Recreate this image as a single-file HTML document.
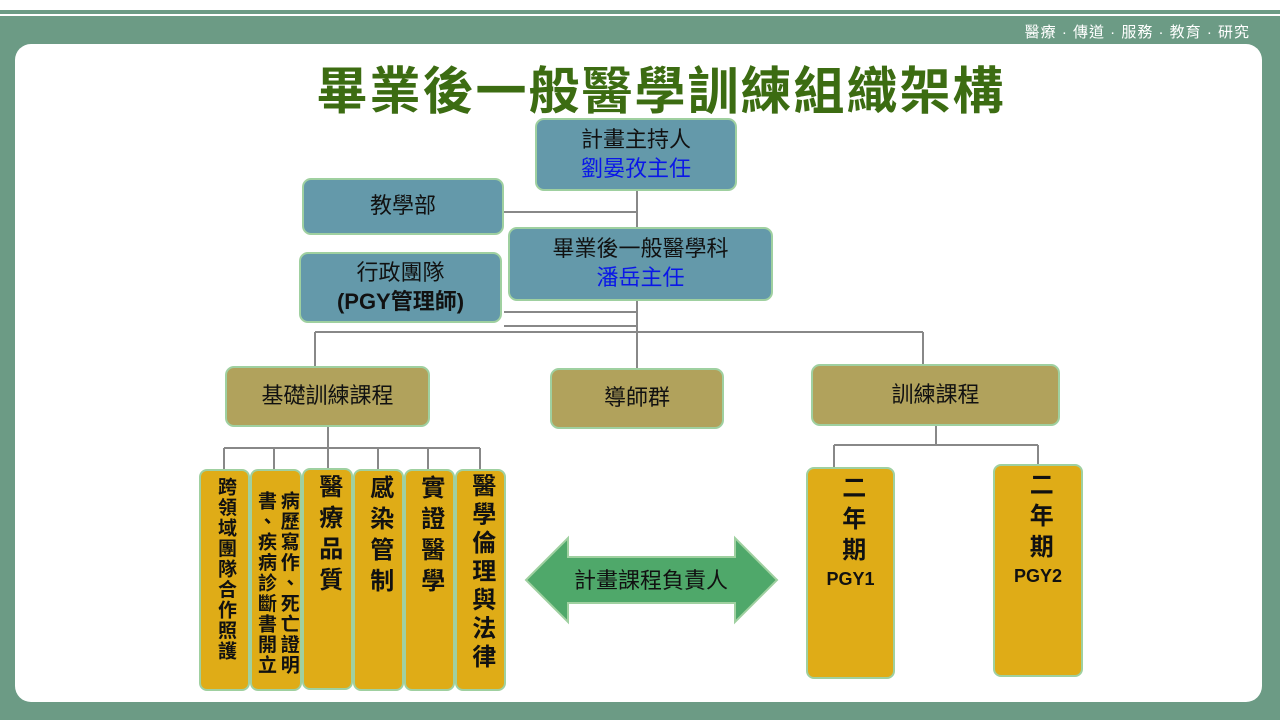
<!DOCTYPE html>
<html><head><meta charset="utf-8"><style>
*{margin:0;padding:0;box-sizing:border-box}
body{width:1280px;height:720px;position:relative;background:#fff;overflow:hidden;font-family:"Liberation Sans","Noto Sans CJK TC",sans-serif}
.abs{position:absolute}
.box{position:absolute;border:2px solid #9fd0a0;border-radius:9px;display:flex;flex-direction:column;align-items:center;justify-content:center;text-align:center;color:#111;line-height:1.3}
.t{background:#6499aa;font-size:22px}
.o{background:#b1a25c;font-size:22px}
.g{background:#dfac17;font-size:24px;justify-content:flex-start;padding-top:4px;border-radius:8px;font-weight:bold}
.v{writing-mode:vertical-rl;line-height:1.1;letter-spacing:7px}
.blue{color:#0a17e8}
</style></head><body>
<div class="abs" style="left:0;top:10px;width:1280px;height:4px;background:#6c9b85"></div>
<div class="abs" style="left:0;top:16px;width:1280px;height:704px;background:#6c9b85"></div>
<div class="abs" style="left:15px;top:44px;width:1247px;height:658px;background:#fff;border-radius:16px"></div>
<div class="abs" style="right:30px;top:21px;color:#fff;font-size:15px;letter-spacing:1px">醫療 · 傳道 · 服務 · 教育 · 研究</div>
<div class="abs" style="left:0;top:50px;width:1322px;text-align:center;color:#3c6c12;font-size:51px;font-weight:bold;letter-spacing:2px">畢業後一般醫學訓練組織架構</div>

<svg class="abs" style="left:0;top:0" width="1280" height="720">
<g stroke="#888" stroke-width="2" fill="none">
<path d="M637 190V230M504 212H637M637 300V332M504 312H637M504 326H637M315 332H923M315 332V366M637 332V368M923 332V366"/>
<path d="M328 425V448M224 448H480M224 448V470M274 448V470M328 448V470M378 448V470M428 448V470M480 448V470"/>
<path d="M936 425V445M834 445H1038M834 445V468M1038 445V465"/>
</g>
<polygon points="526,580 568,538 568,557 735,557 735,538 777,580 735,622 735,603 568,603 568,622" fill="#4fa86a" stroke="#9fd0a0" stroke-width="2"/>
<text x="651" y="588" text-anchor="middle" font-size="22" fill="#111" font-family="Liberation Sans,Noto Sans CJK TC,sans-serif">計畫課程負責人</text>
</svg>

<div class="box t" style="left:535px;top:118px;width:202px;height:73px">計畫主持人<span class="blue">劉晏孜主任</span></div>
<div class="box t" style="left:302px;top:178px;width:202px;height:57px">教學部</div>
<div class="box t" style="left:508px;top:227px;width:265px;height:74px">畢業後一般醫學科<span class="blue">潘岳主任</span></div>
<div class="box t" style="left:299px;top:252px;width:203px;height:71px">行政團隊<b>(PGY管理師)</b></div>
<div class="box o" style="left:225px;top:366px;width:205px;height:61px">基礎訓練課程</div>
<div class="box o" style="left:550px;top:368px;width:174px;height:61px">導師群</div>
<div class="box o" style="left:811px;top:364px;width:249px;height:62px">訓練課程</div>

<div class="box g" style="left:199px;top:469px;width:51px;height:222px;padding-top:6px"><span class="v" style="font-size:19px;letter-spacing:1.5px">跨領域團隊合作照護</span></div>
<div class="box g" style="left:250px;top:469px;width:52px;height:222px;padding-top:6px"><span class="v" style="font-size:19px;letter-spacing:1.5px;line-height:1.2">病歷寫作、死亡證明書、疾病診斷書開立</span></div>
<div class="box g" style="left:302px;top:468px;width:51px;height:222px"><span class="v">醫療品質</span></div>
<div class="box g" style="left:353px;top:469px;width:51px;height:222px"><span class="v">感染管制</span></div>
<div class="box g" style="left:404px;top:469px;width:51px;height:222px"><span class="v">實證醫學</span></div>
<div class="box g" style="left:455px;top:469px;width:51px;height:222px;padding-top:2px"><span class="v" style="font-size:24px;letter-spacing:4.5px;white-space:nowrap">醫學倫理與法律</span></div>

<div class="box g" style="left:806px;top:467px;width:89px;height:212px;padding-top:6px"><span class="v">二年期</span><b style="font-size:18px;margin-top:0">PGY1</b></div>
<div class="box g" style="left:993px;top:464px;width:90px;height:213px;padding-top:6px"><span class="v">二年期</span><b style="font-size:18px;margin-top:0">PGY2</b></div>
</body></html>
